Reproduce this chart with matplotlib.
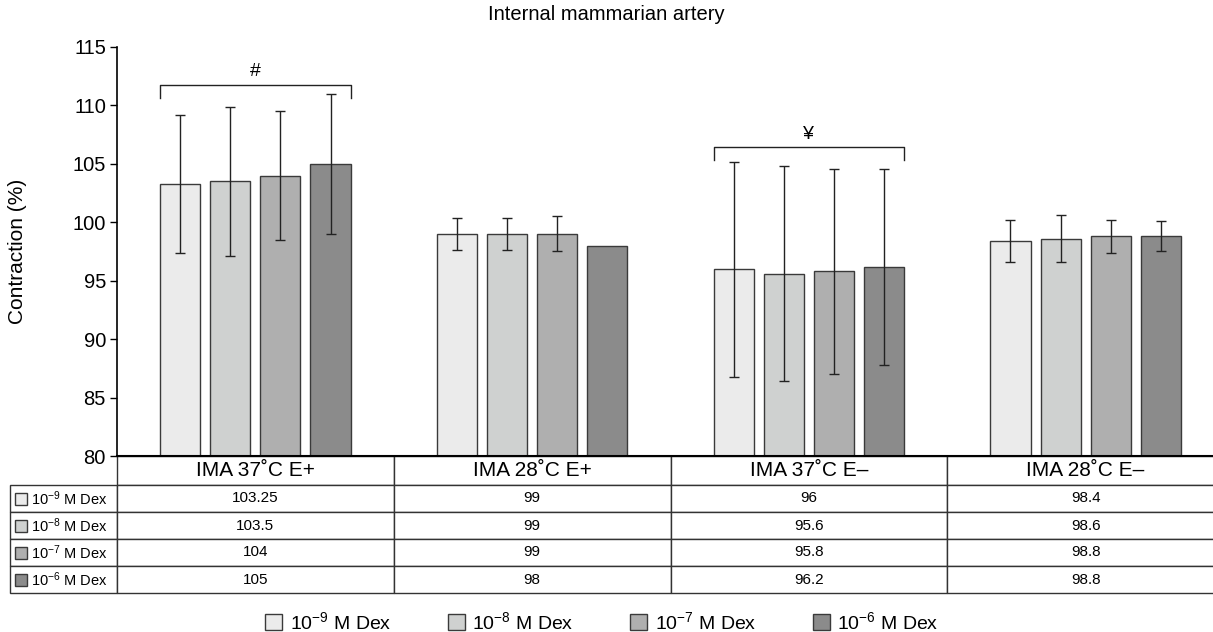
import numpy as np
import matplotlib
matplotlib.use("Agg")
import matplotlib.pyplot as plt
from matplotlib.patches import Rectangle
from matplotlib.table import Table

plt.rcParams['font.family'] = ['Liberation Sans', 'DejaVu Sans']
plt.rcParams['mathtext.default'] = 'regular'

# Dados
categorias = ['IMA 37˚C E+', 'IMA 28˚C E+', 'IMA 37˚C E–', 'IMA 28˚C E–']
doses = [r'$10^{-9}$ M Dex', r'$10^{-8}$ M Dex', r'$10^{-7}$ M Dex', r'$10^{-6}$ M Dex']
cores = ['#ebebeb', '#cfd1d0', '#afafaf', '#8b8b8b']

dex_1e9 = [103.25, 99, 96, 98.4]
dex_1e8 = [103.5, 99, 95.6, 98.6]
dex_1e7 = [104, 99, 95.8, 98.8]
dex_1e6 = [105, 98, 96.2, 98.8]

dp_1e9 = [5.9, 1.4, 9.2, 1.8]
dp_1e8 = [6.4, 1.4, 9.2, 2.0]
dp_1e7 = [5.5, 1.5, 8.8, 1.4]
dp_1e6 = [6.0, np.nan, 8.4, 1.3]

valores = [dex_1e9, dex_1e8, dex_1e7, dex_1e6]
desvios = [dp_1e9, dp_1e8, dp_1e7, dp_1e6]

# Figura (pixels -> fracoes)
W, H = 1213, 632
fig = plt.figure(figsize=(W / 100, H / 100), dpi=100)
ax_l, ax_r, ax_t, ax_b = 117, 1224, 47, 456
ax = fig.add_axes([ax_l / W, 1 - ax_b / H, (ax_r - ax_l) / W, (ax_b - ax_t) / H])

x = np.arange(len(categorias))
passo = 0.181
largura = 0.145
for i, (vals, dps) in enumerate(zip(valores, desvios)):
    pos = x + (i - 1.5) * passo
    ax.bar(pos, np.array(vals) - 80, largura, bottom=80, color=cores[i],
           edgecolor='#3a3a3a', linewidth=1.0, label=doses[i], zorder=2)
    ax.errorbar(pos, vals, yerr=dps, fmt='none', ecolor='#222222',
                elinewidth=1.0, capsize=3.6, capthick=1.0, zorder=3)

ax.set_xlim(-0.5, 3.5)
ax.set_ylim(80, 115)
ax.set_yticks(np.arange(80, 116, 5))
ax.set_xticks([])
ax.tick_params(axis='y', direction='out', length=5, width=1, labelsize=14.5, pad=3)
for lado in ['top', 'right']:
    ax.spines[lado].set_visible(False)
ax.spines['left'].set_linewidth(1.2)
ax.spines['bottom'].set_linewidth(1.5)
ax.set_ylabel('Contraction (%)', fontsize=15)
ax.yaxis.set_label_coords(-(ax_l - 27) / (ax_r - ax_l), 0.5)

fig.text(0.5, 1 - 15 / H, 'Internal mammarian artery', ha='center', va='center', fontsize=14.5)

# Colchetes de significancia
def colchete(ax, grupo, y, y_ponta, simbolo, y_texto):
    esq = grupo - 1.5 * passo - largura / 2
    dir = grupo + 1.5 * passo + largura / 2
    ax.plot([esq, esq, dir, dir], [y_ponta, y, y, y_ponta], color='#222222',
            linewidth=1.0, clip_on=False, zorder=4)
    ax.text(grupo, y_texto, simbolo, ha='center', va='center', fontsize=14)

colchete(ax, 0, 111.75, 110.65, '#', 112.9)
colchete(ax, 2, 106.45, 105.35, '¥', 107.5)

# Tabela abaixo do eixo
larg_rot = 107
larg_col = (ax_r - ax_l) / 4
alt_cab = 29
alt_lin = 27
alt_total = alt_cab + alt_lin * len(doses)
larg_eixo = ax_r - ax_l
tab = Table(ax, bbox=[-larg_rot / larg_eixo, -alt_total / (ax_b - ax_t),
                      1 + larg_rot / larg_eixo, alt_total / (ax_b - ax_t)])
tab.auto_set_font_size(False)

c0 = tab.add_cell(0, 0, larg_rot, alt_cab, text='')
c0.visible_edges = ''
for j, cat in enumerate(categorias):
    cel = tab.add_cell(0, j + 1, larg_col, alt_cab, text=cat, loc='center')
    cel.get_text().set_fontsize(15)
for i, dose in enumerate(doses):
    cel = tab.add_cell(i + 1, 0, larg_rot, alt_lin, text=dose, loc='left')
    cel.PAD = 0.2
    cel.get_text().set_fontsize(10.5)
    for j in range(len(categorias)):
        cel = tab.add_cell(i + 1, j + 1, larg_col, alt_lin, text=f'{valores[i][j]:g}', loc='center')
        cel.get_text().set_fontsize(11)
for cel in tab.get_celld().values():
    cel.set_edgecolor('#333333')
    cel.set_linewidth(1.0)
ax.add_table(tab)

# Quadradinhos de cor nos rotulos da tabela
alt_eixo = ax_b - ax_t
for i in range(len(doses)):
    yc = -(alt_cab + alt_lin * (i + 0.5)) / alt_eixo
    ax.add_patch(Rectangle(((15 - ax_l) / larg_eixo, yc - 6 / alt_eixo),
                           12 / larg_eixo, 12 / alt_eixo, transform=ax.transAxes,
                           facecolor=cores[i], edgecolor='#3a3a3a', linewidth=1.0,
                           clip_on=False))

handles, labels = ax.get_legend_handles_labels()
fig.legend(handles, labels, loc='center', bbox_to_anchor=(602 / W, 1 - 622 / H), ncol=4,
           frameon=False, fontsize=14, handlelength=0.87, handleheight=0.87,
           handletextpad=0.4, columnspacing=2.9)

fig.savefig('out.png', dpi=100)
